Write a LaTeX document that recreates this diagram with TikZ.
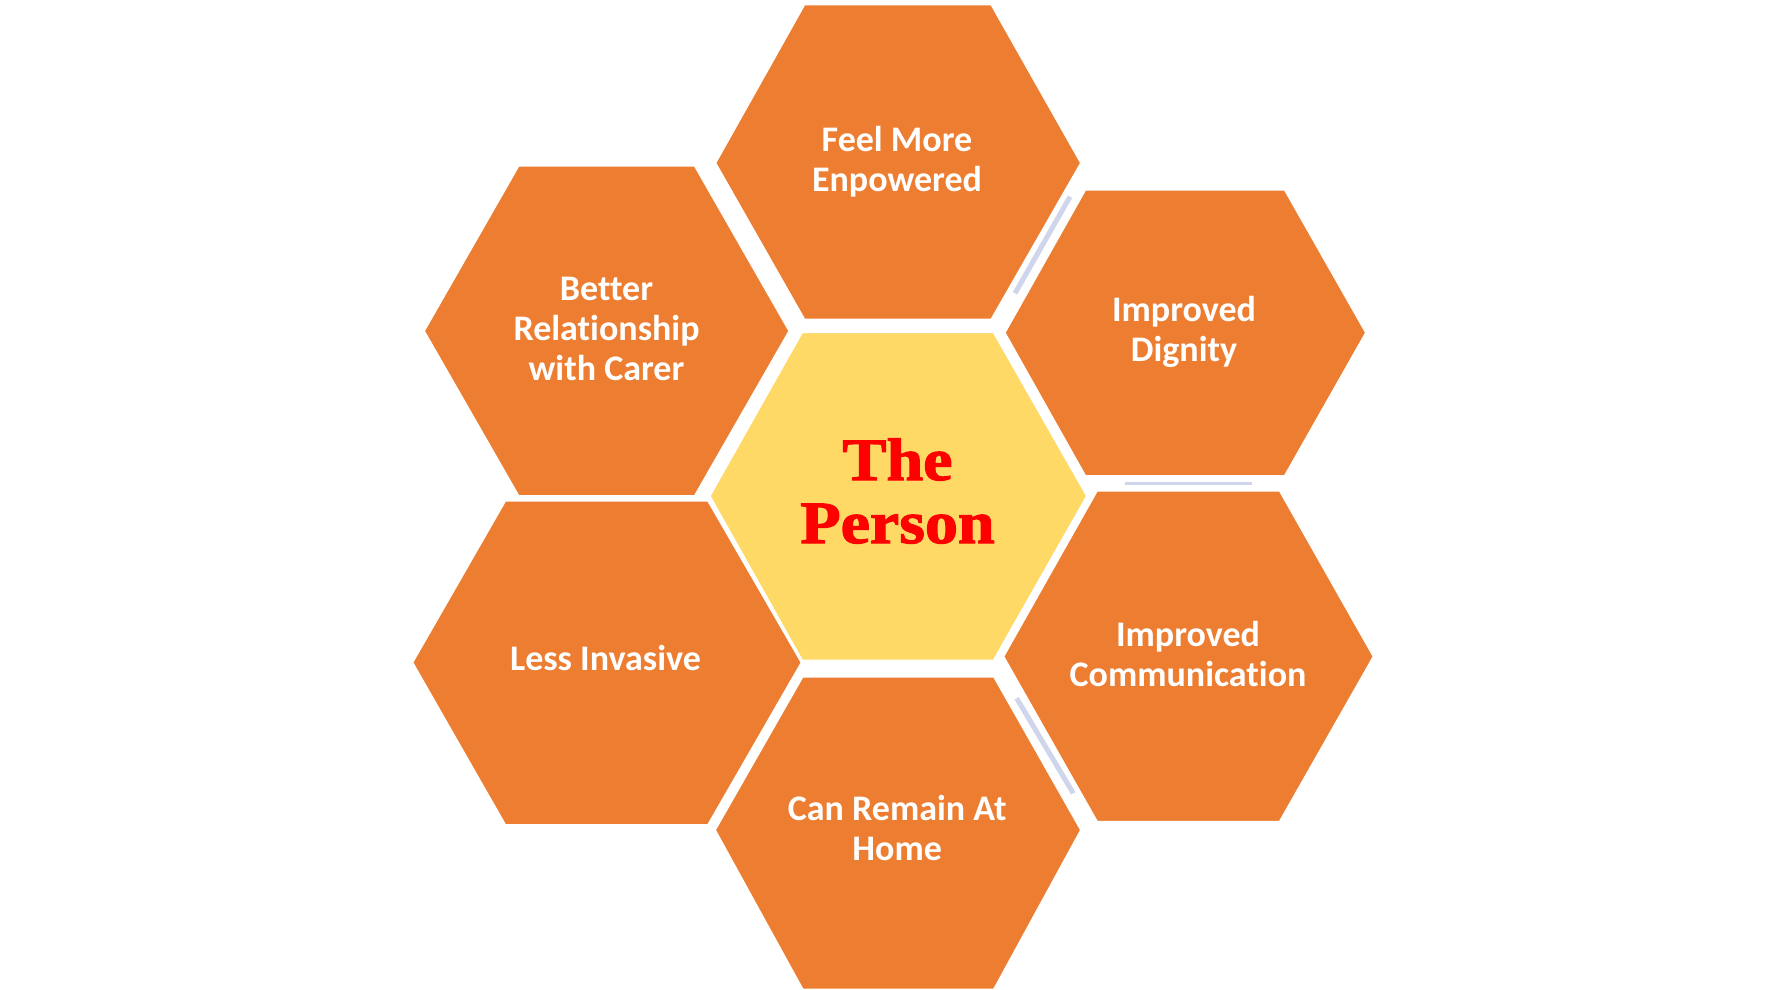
\documentclass[tikz,border=0pt]{standalone}
\usepackage{fontspec}
\setmainfont{Carlito}[Ligatures={NoCommon,NoContextual}]
\newfontfamily\personfont{Liberation Serif}[FakeStretch=1.1,FakeBold=2]
\definecolor{hexorange}{HTML}{ED7D31}
\definecolor{hexyellow}{HTML}{FFD966}
\definecolor{bandblue}{HTML}{CFD5EA}
\tikzset{
  hexfill/.style={fill=hexorange, draw=white, line width=3pt},
  centerfill/.style={fill=hexyellow, draw=white, line width=3pt},
  hextext/.style={text=white, font=\bfseries\fontsize{36}{40}\selectfont, align=center, inner sep=0pt, anchor=base},
  persontext/.style={text=red, font=\personfont\bfseries\fontsize{60}{63}\selectfont, align=center, inner sep=0pt, anchor=base},
  bandline/.style={draw=bandblue, line width=5pt}
}
% #1 style, #2 L, #3 TL, #4 TR, #5 R, #6 top, #7 mid, #8 bottom
\newcommand{\hexpoly}[8]{\path[#1] (#2,#7) -- (#3,#6) -- (#4,#6) -- (#5,#7) -- (#4,#8) -- (#3,#8) -- cycle;}
\begin{document}
\begin{tikzpicture}[x=1pt,y=-1pt]
\useasboundingbox (0,0) rectangle (1785,990);
\fill[white] (0,0) rectangle (1785,990);
% bands
\draw[bandline] (1070,196.7) -- (1015,293.3);
\draw[bandline, line width=3pt] (1125,483.3) -- (1252,483.3);
\draw[bandline] (1016.7,698.3) -- (1073.3,793.3);
% outer hexagons
\hexpoly{hexfill}{714.7}{804}{991.7}{1081.7}{4}{163}{320}
\hexpoly{hexfill}{423.3}{518.3}{695}{790}{165}{331}{496.7}
\hexpoly{hexfill}{1004}{1085}{1285}{1366.7}{189}{332.7}{476.7}
\hexpoly{hexfill}{411.7}{505}{708.3}{802.3}{500}{662.5}{825.7}
\hexpoly{hexfill}{1002.7}{1096.7}{1280}{1374.3}{490}{656.5}{822.3}
\hexpoly{hexfill}{714.3}{802.3}{994.3}{1081.7}{676}{830}{990}
% centre hexagon
\hexpoly{centerfill}{709}{801.7}{994}{1087.7}{331.7}{496}{661}
% texts (anchor at baseline of last line)
\node[hextext] (empowered) at (897,191.7) {Feel More\\Enpowered};
\node[hextext] (relationship) at (606.5,380) {Better\\Relationship\\with Carer};
\node[hextext] (dignity) at (1184,361.7) {Improved\\Dignity};
\node[hextext] (invasive) at (605.5,670.7) {Less Invasive};
\node[hextext] (communication) at (1188,686) {Improved\\Communication};
\node[hextext] (home) at (897.2,860) {Can Remain At\\Home};
\node[persontext] (person) at (897.5,543) {The\\Person};
\end{tikzpicture}
\end{document}
